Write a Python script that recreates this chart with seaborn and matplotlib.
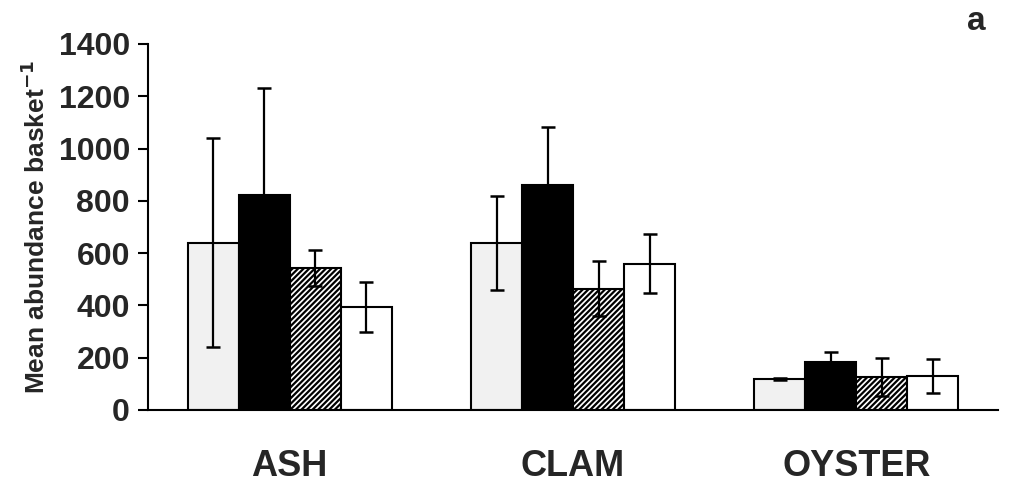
import numpy as np
import pandas as pd
import matplotlib
matplotlib.use("Agg")
import matplotlib.pyplot as plt
import seaborn as sns

# =========================
# DATA
# =========================
sites = ["ASH", "CLAM", "OYSTER"]
treatments = ["T1", "T2", "T3", "T4"]

means = {
    "T1": [640, 640, 118],
    "T2": [822, 862, 184],
    "T3": [543, 463, 126],
    "T4": [394, 560, 130],
}
errs = {
    "T1": [400, 180, 5],
    "T2": [410, 222, 38],
    "T3": [70, 105, 73],
    "T4": [96, 112, 66],
}

y_ticks = [0, 200, 400, 600, 800, 1000, 1200, 1400]

rows = []
for t in treatments:
    for s, m in zip(sites, means[t]):
        rows.append({"site": s, "treatment": t, "mean": m})
df = pd.DataFrame(rows)

# =========================
# PLOT
# =========================
sns.set_theme(style="white")
plt.rcParams["font.family"] = ["Liberation Sans", "DejaVu Sans"]
plt.rcParams["hatch.linewidth"] = 1.6

fig = plt.figure(figsize=(10.16, 4.86), dpi=100)
ax = fig.add_axes([0.1457, 0.1564, 0.8366, 0.7531])

sns.barplot(data=df, x="site", y="mean", hue="treatment", order=sites,
            hue_order=treatments, width=0.72, errorbar=None, ax=ax,
            legend=False, saturation=1)

faces = ["#f1f1f1", "black", "white", "white"]
hatches = [None, None, "//////", None]

for i, (cont, t) in enumerate(zip(ax.containers, treatments)):
    xs = []
    for bar in cont:
        bar.set_facecolor(faces[i])
        bar.set_edgecolor("black")
        bar.set_linewidth(1.5)
        if hatches[i]:
            bar.set_hatch(hatches[i])
        xs.append(bar.get_x() + bar.get_width() / 2)
    ax.errorbar(xs, means[t], yerr=errs[t], fmt="none", ecolor="black",
                elinewidth=1.6, capsize=5, capthick=1.8, zorder=5)

ax.set_xlim(-0.5, 2.5)
ax.set_ylim(0, 1400)
ax.set_yticks(y_ticks)
ax.set_yticklabels([str(v) for v in y_ticks], fontsize=23, fontweight="bold")
ax.set_xticks(range(len(sites)))
ax.set_xticklabels(sites, fontsize=26, fontweight="bold")
ax.set_xticks([-0.5, 0.5, 1.5, 2.5], minor=True)
ax.tick_params(axis="x", which="major", length=0, pad=28)
ax.tick_params(axis="x", which="minor", length=10, width=1.5, direction="out",
               color="black")
ax.tick_params(axis="y", length=7, width=1.5, direction="out", color="black",
               left=True, pad=6)

ax.set_xlabel("")
ax.set_ylabel("Mean abundance basket$^{\\mathbf{-1}}$", fontsize=19,
              fontweight="bold", labelpad=6)

sns.despine(ax=ax)
for sp in ["left", "bottom"]:
    ax.spines[sp].set_color("black")
    ax.spines[sp].set_linewidth(1.5)

fig.text(0.961, 0.955, "a", fontsize=24, fontweight="bold", ha="center",
         va="center")

fig.savefig("out.png", dpi=100)
